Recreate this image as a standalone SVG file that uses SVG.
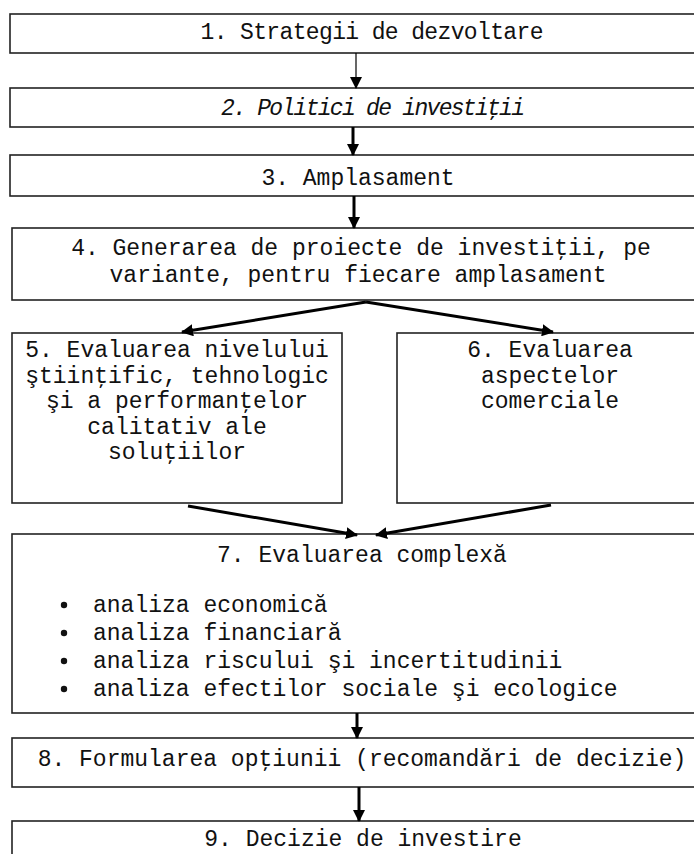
<svg xmlns="http://www.w3.org/2000/svg" width="694" height="854" viewBox="0 0 694 854">
<defs>
<style>
.box{fill:#fff;stroke:#222;stroke-width:1.6}
.t{font-family:"Liberation Mono","Courier New",monospace;font-size:23px;fill:#111;text-anchor:middle}
.l{text-anchor:start}
.c{fill:none;stroke:#000;stroke-width:3}
.thin{stroke-width:1.2}
</style>
<marker id="ah" markerUnits="userSpaceOnUse" markerWidth="12" markerHeight="12" viewBox="0 0 12 12" refX="11" refY="6" orient="auto">
<path d="M0,0 L12,6 L0,12 Z" fill="#000"/>
</marker>
</defs>
<rect width="694" height="854" fill="#fff"/>
<g id="n1"><rect class="box" x="10" y="14" width="740" height="39"/><text class="t" x="372" y="39" textLength="343" lengthAdjust="spacing">1. Strategii de dezvoltare</text></g>
<g id="n2"><rect class="box" x="10" y="88" width="740" height="39"/><text class="t" x="373" y="115" font-style="italic" font-size="21" textLength="304" lengthAdjust="spacing">2. Politici de investiţii</text></g>
<g id="n3"><rect class="box" x="10" y="155" width="740" height="41"/><text class="t" x="358" y="185">3. Amplasament</text></g>
<g id="n4"><rect class="box" x="12" y="228" width="740" height="72"/><text class="t" x="361" y="255">4. Generarea de proiecte de investiţii, pe</text><text class="t" x="358" y="282">variante, pentru fiecare amplasament</text></g>
<g id="n5"><rect class="box" x="12" y="333" width="330" height="170"/><text class="t" x="177" y="357">5. Evaluarea nivelului</text><text class="t" x="177" y="383">ştiinţific, tehnologic</text><text class="t" x="177" y="408">şi a performanţelor</text><text class="t" x="177" y="434">calitativ ale</text><text class="t" x="177" y="459">soluţiilor</text></g>
<g id="n6"><rect class="box" x="397" y="333" width="320" height="170"/><text class="t" x="550" y="357">6. Evaluarea</text><text class="t" x="550" y="383">aspectelor</text><text class="t" x="550" y="408">comerciale</text></g>
<g id="n7"><rect class="box" x="12" y="534" width="740" height="179"/><text class="t" x="362" y="562">7. Evaluarea complexă</text>
<circle cx="64" cy="605" r="3.2" fill="#111"/><text class="t l" x="93" y="612">analiza economică</text>
<circle cx="64" cy="633" r="3.2" fill="#111"/><text class="t l" x="93" y="640">analiza financiară</text>
<circle cx="64" cy="661" r="3.2" fill="#111"/><text class="t l" x="93" y="668">analiza riscului şi incertitudinii</text>
<circle cx="64" cy="689" r="3.2" fill="#111"/><text class="t l" x="93" y="696">analiza efectilor sociale şi ecologice</text></g>
<g id="n8"><rect class="box" x="12" y="738" width="740" height="49"/><text class="t" x="362" y="766">8. Formularea opţiunii (recomandări de decizie)</text></g>
<g id="n9"><rect class="box" x="12" y="821" width="740" height="50"/><text class="t" x="363" y="846">9. Decizie de investire</text></g>
<g id="connectors">
<line class="c thin" x1="356" y1="53" x2="356" y2="88" marker-end="url(#ah)"/>
<line class="c" x1="353" y1="127" x2="353" y2="155" marker-end="url(#ah)"/>
<line class="c" x1="354" y1="196" x2="354" y2="228" marker-end="url(#ah)"/>
<line class="c" x1="366" y1="302" x2="182" y2="332" marker-end="url(#ah)"/>
<line class="c" x1="366" y1="302" x2="553" y2="332" marker-end="url(#ah)"/>
<line class="c" x1="188" y1="506" x2="357" y2="535" marker-end="url(#ah)"/>
<line class="c" x1="551" y1="505" x2="376" y2="535" marker-end="url(#ah)"/>
<line class="c" x1="357" y1="713" x2="357" y2="738" marker-end="url(#ah)"/>
<line class="c" x1="359" y1="787" x2="359" y2="821" marker-end="url(#ah)"/>
</g>
</svg>
